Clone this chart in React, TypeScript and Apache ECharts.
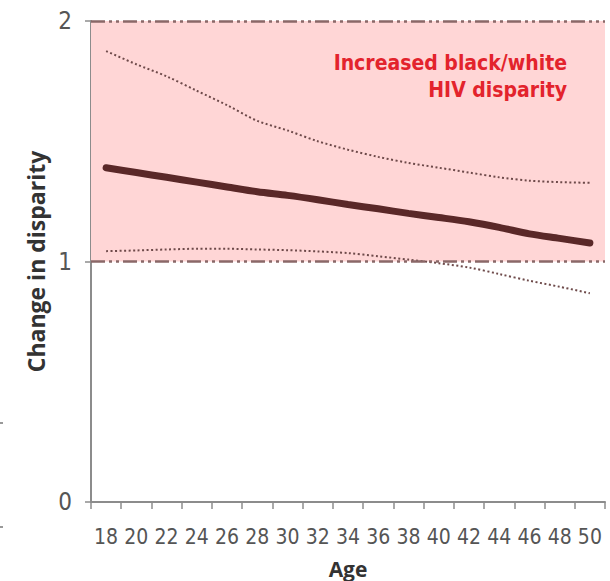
import React, { useEffect, useRef } from "react";
import * as echarts from "echarts";

const ages = ["18","20","22","24","26","28","30","32","34","36","38","40","42","44","46","48","50"];
const meanChange = [1.39,1.37,1.35,1.33,1.31,1.29,1.275,1.257,1.237,1.219,1.2,1.183,1.165,1.142,1.115,1.096,1.077];
const upperCI = [1.875,1.82,1.77,1.71,1.65,1.585,1.545,1.5,1.465,1.435,1.41,1.39,1.37,1.35,1.336,1.33,1.327];
const lowerCI = [1.043,1.046,1.05,1.053,1.053,1.05,1.047,1.042,1.035,1.022,1.008,0.993,0.975,0.948,0.92,0.895,0.868];
const yTicks = [0, 1, 2];
const annotationLines = ["Increased black/white", "HIV disparity"];

const narrow = "'DejaVu Sans Condensed', 'Liberation Sans Narrow', 'Arial Narrow', sans-serif";

export default function App() {
  const ref = useRef<HTMLDivElement>(null);
  useEffect(() => {
    if (!ref.current) return;
    const chart = echarts.init(ref.current, null, { renderer: "svg" });
    const refLineStyle = { color: "#8a6868", width: 2.5, type: [14, 4, 3, 4, 3, 4] as any };
    chart.setOption({
      animation: false,
      backgroundColor: "#ffffff",
      grid: { left: 91, right: 5, top: 21, bottom: 79, containLabel: false, outerBoundsMode: "none" },
      xAxis: {
        type: "category",
        data: ages,
        boundaryGap: true,
        name: "Age",
        nameLocation: "middle",
        nameGap: 56,
        nameTextStyle: { fontFamily: "Open Sans, sans-serif", fontWeight: "bold", fontSize: 21, color: "#333" },
        axisLine: { lineStyle: { color: "#8c8c8c", width: 2 } },
        axisTick: { show: true, length: 7, alignWithLabel: false, lineStyle: { color: "#8c8c8c", width: 1.5 } },
        axisLabel: { fontFamily: narrow, fontSize: 21, color: "#555", margin: 24, interval: 0 },
        splitLine: { show: false },
      },
      yAxis: {
        type: "value",
        min: yTicks[0],
        max: yTicks[yTicks.length - 1],
        interval: 1,
        name: "Change in disparity",
        nameLocation: "middle",
        nameGap: 42,
        nameTextStyle: { fontFamily: "Open Sans, sans-serif", fontWeight: "bold", fontSize: 23, color: "#333" },
        axisLine: { show: true, lineStyle: { color: "#8c8c8c", width: 2 } },
        axisTick: { show: true, length: 6, lineStyle: { color: "#8c8c8c", width: 1.5 } },
        axisLabel: { fontFamily: narrow, fontSize: 24, color: "#555", margin: 19 },
        splitLine: { show: false },
      },
      series: [
        {
          type: "line",
          data: meanChange,
          showSymbol: false,
          symbol: "none",
          smooth: 0.3,
          lineStyle: { color: "#5a2828", width: 7, cap: "round" },
          z: 5,
          markArea: {
            silent: true,
            itemStyle: { color: "#ffd6d6" },
            data: [[{ yAxis: 1 }, { yAxis: 2 }]],
          },
          markLine: {
            silent: true,
            symbol: "none",
            label: { show: false },
            lineStyle: refLineStyle,
            data: [{ yAxis: 2 }, { yAxis: 1 }],
          },
        },
        {
          type: "line",
          data: upperCI,
          showSymbol: false,
          symbol: "none",
          smooth: 0.3,
          lineStyle: { color: "#6e4a4a", width: 2, type: [2, 2.5] as any },
          z: 4,
        },
        {
          type: "line",
          data: lowerCI,
          showSymbol: false,
          symbol: "none",
          smooth: 0.3,
          lineStyle: { color: "#6e4a4a", width: 2, type: [2, 2.5] as any },
          z: 4,
        },
      ],
      graphic: [
        {
          type: "text",
          z: 100,
          x: 567,
          y: 49,
          style: {
            text: annotationLines.join("\n"),
            align: "right",
            verticalAlign: "top",
            fill: "#e3232c",
            fontFamily: narrow,
            fontWeight: "bold",
            fontSize: 21,
            lineHeight: 27,
          },
        },
        { type: "rect", z: 100, shape: { x: 0, y: 422, width: 3, height: 2 }, style: { fill: "#999" } },
        { type: "rect", z: 100, shape: { x: 0, y: 526, width: 3, height: 2 }, style: { fill: "#999" } },
      ],
    });
    return () => chart.dispose();
  }, []);
  return <div ref={ref} style={{ position: "fixed", left: 0, top: 0, width: 610, height: 581 }} />;
}
